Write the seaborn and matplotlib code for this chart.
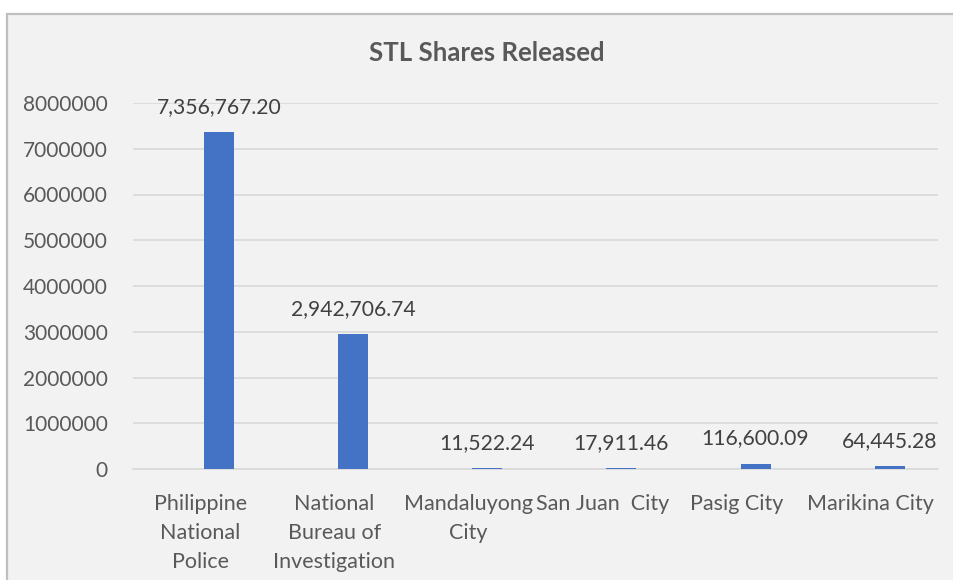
import pandas as pd
import numpy as np
import matplotlib
matplotlib.use("Agg")
import matplotlib.pyplot as plt
from matplotlib.patches import Rectangle
from matplotlib.ticker import FuncFormatter
import seaborn as sns

# data
categories = [
    "Philippine\nNational\nPolice",
    "National\nBureau of\nInvestigation",
    "Mandaluyong\nCity",
    "San Juan  City",
    "Pasig City",
    "Marikina City",
]
shares = [7356767.20, 2942706.74, 11522.24, 17911.46, 116600.09, 64445.28]
y_ticks = [0, 1000000, 2000000, 3000000, 4000000, 5000000, 6000000, 7000000, 8000000]

# long table: an empty first series gives the Excel-style offset of the bars
df = pd.DataFrame({
    "Category": categories * 2,
    "Series": ["blank"] * len(categories) + ["STL"] * len(categories),
    "Value": [np.nan] * len(categories) + shares,
})

sns.set_style("white")
plt.rcParams["font.family"] = ["Lato", "DejaVu Sans"]

bg = "#f2f2f2"
fig = plt.figure(figsize=(9.54, 5.8), dpi=100, facecolor="white")
fig.patches.append(Rectangle((7.5 / 954, -0.05), 1.1, (580 - 13.5) / 580 + 0.05,
                             transform=fig.transFigure, facecolor=bg,
                             edgecolor="#bfbfbf", linewidth=1.6, zorder=-5))

ax = fig.add_axes([133 / 954, 111 / 580, (938 - 133) / 954, (469 - 103) / 580])
ax.set_facecolor(bg)

sns.barplot(data=df, x="Category", y="Value", hue="Series",
            hue_order=["blank", "STL"], order=categories,
            palette={"blank": bg, "STL": "#4472c4"}, saturation=1,
            width=0.56, gap=0.2, dodge=True, legend=False, ax=ax, zorder=3,
            linewidth=0, edgecolor="none")

ax.set_ylim(0, 8000000)
ax.set_yticks(y_ticks)
ax.yaxis.set_major_formatter(FuncFormatter(lambda v, p: f"{int(v)}"))
ax.grid(axis="y", color="#d9d9d9", linewidth=1.2, zorder=0)
ax.set_axisbelow(True)
for s in ["top", "right", "left"]:
    ax.spines[s].set_visible(False)
ax.spines["bottom"].set_color("#d9d9d9")
ax.spines["bottom"].set_linewidth(1.2)
ax.tick_params(axis="both", length=0, colors="#595959")
ax.tick_params(axis="y", pad=18, labelsize=15)
ax.tick_params(axis="x", pad=18, labelsize=15.5)
for lbl in ax.get_xticklabels():
    lbl.set_linespacing(1.55)
ax.set_xlabel("")
ax.set_ylabel("")

# data labels
stl = ax.containers[-1]
ax.bar_label(stl, labels=[f"{v:,.2f}" for v in shares], padding=11,
             fontsize=15.2, color="#404040", clip_on=False)

fig.text(487 / 954, 1 - 53 / 580, "STL Shares Released", ha="center", va="center",
         fontsize=18.5, fontweight="bold", color="#595959")

fig.savefig("out.png", dpi=100, facecolor="white")
